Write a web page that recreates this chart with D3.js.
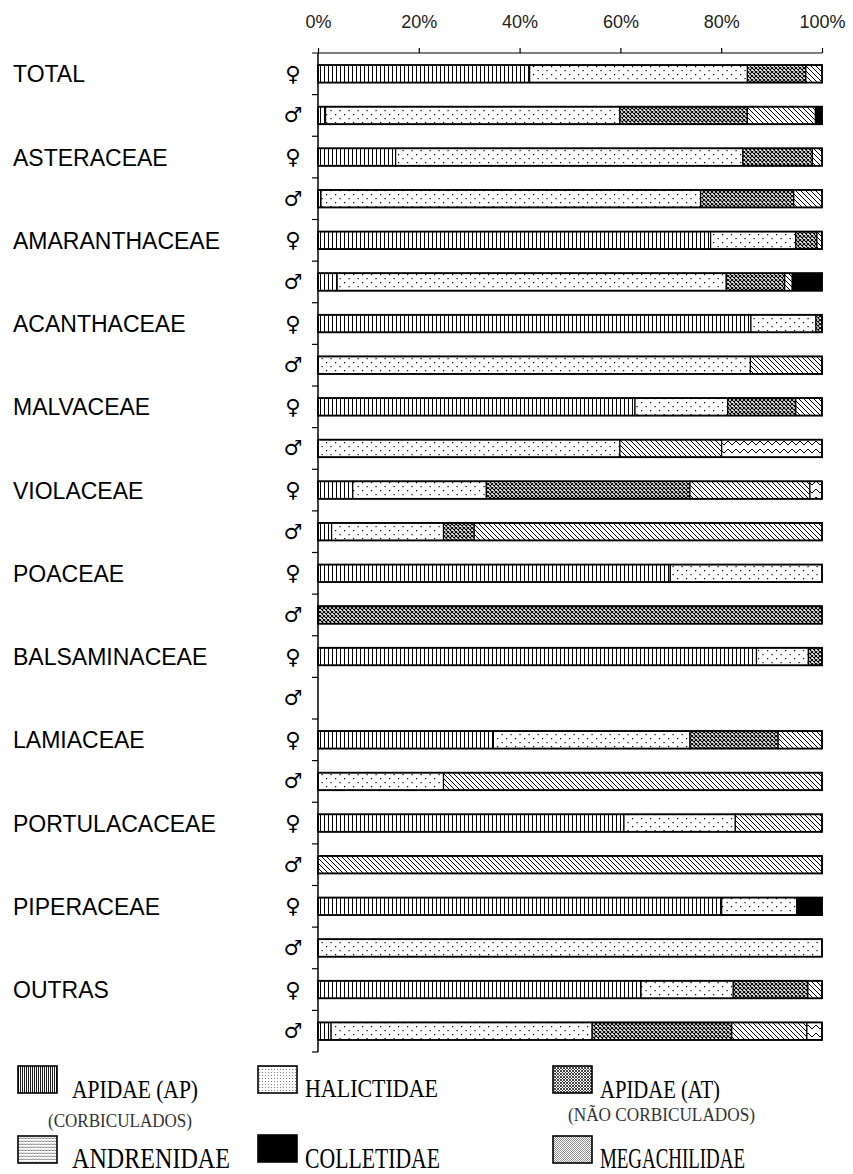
<!DOCTYPE html>
<html><head><meta charset="utf-8">
<script src="https://cdn.jsdelivr.net/npm/d3@7"></script>
<style>body{margin:0;background:#fff}svg{display:block}</style>
</head><body>
<svg id="c" width="853" height="1174"></svg>
<script>
const categories = ["TOTAL","ASTERACEAE","AMARANTHACEAE","ACANTHACEAE","MALVACEAE","VIOLACEAE","POACEAE","BALSAMINACEAE","LAMIACEAE","PORTULACACEAE","PIPERACEAE","OUTRAS"];
const sexes = ["♀","♂"];
const families = ["AP","HAL","AT","MEG","AND","COL"];
const tickValues = [0,20,40,60,80,100];
// values per row: cat ♀, cat ♂ ...
const apidaeAP   = [42,1.5, 15.4,0.6, 77.9,3.8, 85.9,0, 62.9,0, 6.9,2.7, 69.9,0, 87.0,0, 34.8,0, 60.7,0, 80.1,0, 64.1,2.6];
const halictidae = [43.2,58.4, 68.9,75.3, 16.9,77.2, 12.9,85.8, 18.4,59.9, 26.5,22.2, 30.1,0, 10.3,0, 39.0,24.9, 22.1,0, 14.9,100, 18.3,51.8];
const apidaeAT   = [11.6,25.3, 13.8,18.5, 4.2,11.6, 1.2,0, 13.5,0, 40.4,6.1, 0,100, 2.7,0, 17.5,0, 0,0, 0,0, 14.8,27.7];
const megachilidae=[3.2,13.5, 1.9,5.6, 1.0,1.5, 0,14.2, 5.2,20.2, 23.8,69.0, 0,0, 0,0, 8.7,75.1, 17.2,100, 0,0, 2.8,14.9];
const andrenidae = [0,0, 0,0, 0,0, 0,0, 0,19.9, 2.4,0, 0,0, 0,0, 0,0, 0,0, 0,0, 0,3.0];
const colletidae = [0,1.3, 0,0, 0,5.9, 0,0, 0,0, 0,0, 0,0, 0,0, 0,0, 0,0, 5.0,0, 0,0];

const seriesMap = {AP:apidaeAP, HAL:halictidae, AT:apidaeAT, MEG:megachilidae, AND:andrenidae, COL:colletidae};
const rows = [];
categories.forEach((c,i)=>sexes.forEach((s,j)=>{
  const k=i*2+j; const r={key:c+"|"+s, cat:c, sex:s, total:0};
  families.forEach(f=>{r[f]=seriesMap[f][k]; r.total+=seriesMap[f][k];});
  rows.push(r);
}));

const svg = d3.select("#c");
const defs = svg.append("defs");
function pat(id,w,h,draw){const p=defs.append("pattern").attr("id",id).attr("patternUnits","userSpaceOnUse").attr("width",w).attr("height",h);p.append("rect").attr("width",w).attr("height",h).attr("fill","#fff");draw(p);return p;}
// chart patterns
pat("pAP",4,4,p=>p.append("rect").attr("x",0).attr("y",0).attr("width",1).attr("height",4).attr("fill","#000"));
pat("pHAL",9,8,p=>{p.append("rect").attr("x",2).attr("y",2).attr("width",1.2).attr("height",1.2).attr("fill","#000");p.append("rect").attr("x",6.5).attr("y",6).attr("width",1.2).attr("height",1.2).attr("fill","#000");});
pat("pAT",4,4,p=>p.append("path").attr("d","M0,0L4,4M4,0L0,4").attr("stroke","#000").attr("stroke-width",1.1));
pat("pMEG",5,5,p=>p.append("path").attr("d","M0,0L5,5M-1,4L1,6M4,-1L6,1").attr("stroke","#000").attr("stroke-width",1));
pat("pAND",8,8,p=>p.append("path").attr("d","M0,1L4,5L8,1").attr("fill","none").attr("stroke","#000").attr("stroke-width",1));
pat("pCOL",4,4,p=>p.select("rect").attr("fill","#000"));
// legend patterns (finer)
pat("lAP",2,2,p=>p.append("rect").attr("width",0.9).attr("height",2).attr("fill","#000"));
pat("lHAL",3,3,p=>p.append("rect").attr("x",1).attr("y",1).attr("width",0.8).attr("height",0.8).attr("fill","#444"));
pat("lAT",3,3,p=>p.append("path").attr("d","M0,0L3,3M3,0L0,3").attr("stroke","#333").attr("stroke-width",0.9));
pat("lAND",3,3,p=>p.append("path").attr("d","M0,0.5L1.5,2L3,0.5").attr("fill","none").attr("stroke","#444").attr("stroke-width",0.8));
pat("lMEG",2,2,p=>p.append("path").attr("d","M0,0L2,2M-1,1L1,3M1,-1L3,1").attr("stroke","#444").attr("stroke-width",0.6));
pat("lCOL",2,2,p=>p.select("rect").attr("fill","#000"));

const x0=318, x1=822, yTop=53, yBot=1052;
const x = d3.scaleLinear().domain([0,100]).range([x0,x1]);
const y = d3.scaleBand().domain(rows.map(r=>r.key)).range([yTop,yBot]).paddingInner(0);
const barH = 17.5;

// top axis
const gx = svg.append("g").attr("transform",`translate(0,${yTop})`)
  .call(d3.axisTop(x).tickValues(tickValues).tickSize(5).tickPadding(20).tickFormat(d=>d+"%"));
gx.select(".domain").attr("d",`M${x0-6},0H${x1}`).attr("stroke","#000").attr("stroke-width",1.2);
gx.selectAll(".tick line").attr("stroke","#000").attr("stroke-width",1.2);
gx.selectAll(".tick text").attr("font-family","Liberation Sans, Arial, sans-serif").attr("font-size",18).attr("fill","#222");

// left axis with boundary ticks
const gy = svg.append("g");
gy.append("line").attr("x1",x0).attr("x2",x0).attr("y1",yTop).attr("y2",yBot).attr("stroke","#000").attr("stroke-width",1.5);
const bounds = rows.map(r=>y(r.key)+y.bandwidth());
gy.selectAll("line.tk").data(bounds).join("line").attr("class","tk")
  .attr("x1",x0-6).attr("x2",x0).attr("y1",d=>d).attr("y2",d=>d).attr("stroke","#000").attr("stroke-width",1.2);

// bars
const stack = d3.stack().keys(families)(rows);
const g = svg.append("g");
stack.forEach(s=>{
  g.append("g").selectAll("rect").data(s.filter(d=>d[1]-d[0]>0)).join("rect")
   .attr("x",d=>x(d[0])).attr("width",d=>x(d[1])-x(d[0]))
   .attr("y",d=>y(d.data.key)+y.bandwidth()/2-barH/2).attr("height",barH)
   .attr("fill",`url(#p${s.key})`).attr("stroke","#000").attr("stroke-width",1.2);
});
// bar outlines
g.append("g").selectAll("rect").data(rows.filter(r=>r.total>0)).join("rect")
  .attr("x",x(0)).attr("width",d=>x(d.total)-x(0))
  .attr("y",d=>y(d.key)+y.bandwidth()/2-barH/2).attr("height",barH)
  .attr("fill","none").attr("stroke","#000").attr("stroke-width",1.8);

// category labels & sex symbols
svg.append("g").selectAll("text").data(rows.filter(r=>r.sex==="♀")).join("text")
  .attr("x",13).attr("y",d=>y(d.key)+y.bandwidth()/2+8.5)
  .attr("font-family","Liberation Sans, Arial, sans-serif").attr("font-size",23).attr("fill","#000")
  .text(d=>d.cat);
svg.append("g").selectAll("text").data(rows).join("text")
  .attr("x",293).attr("y",d=>y(d.key)+y.bandwidth()/2).attr("dominant-baseline","central").attr("text-anchor","middle")
  .attr("font-family","DejaVu Sans, sans-serif").attr("font-size",21).attr("fill","#000")
  .text(d=>d.sex);

// legend
const legendItems = [
  {f:"AP",label:"APIDAE (AP)",sub:"(CORBICULADOS)",sx:18,sy:1066,tx:72,tw:126,ty:1098,subx:48,subw:144,suby:1127},
  {f:"HAL",label:"HALICTIDAE",sx:258,sy:1066,tx:305,tw:133,ty:1097},
  {f:"AT",label:"APIDAE (AT)",sub:"(NÃO CORBICULADOS)",sx:553,sy:1066,tx:600,tw:120,ty:1098,subx:568,subw:187,suby:1121},
  {f:"AND",label:"ANDRENIDAE",sx:18,sy:1136,tx:72,tw:158,ty:1168,big:true},
  {f:"COL",label:"COLLETIDAE",sx:258,sy:1135,tx:305,tw:135,ty:1168,big:true},
  {f:"MEG",label:"MEGACHILIDAE",sx:553,sy:1136,tx:600,tw:145,ty:1168,big:true}
];
const lg = svg.append("g");
legendItems.forEach(it=>{
  lg.append("rect").attr("x",it.sx).attr("y",it.sy).attr("width",39).attr("height",27)
    .attr("fill",`url(#l${it.f})`).attr("stroke","#000").attr("stroke-width",1.6);
  lg.append("text").attr("transform",`translate(${it.tx},${it.ty}) scale(1,${it.big?1.2:1.05})`)
    .attr("font-family","Liberation Serif, Times New Roman, serif")
    .attr("font-size",24).attr("fill","#000").attr("textLength",it.tw).attr("lengthAdjust","spacingAndGlyphs").text(it.label);
  if(it.sub){
    lg.append("text").attr("x",it.subx).attr("y",it.suby).attr("font-family","Liberation Serif, Times New Roman, serif")
      .attr("font-size",19).attr("fill","#333").attr("textLength",it.subw).attr("lengthAdjust","spacingAndGlyphs").text(it.sub);
  }
});
</script>
</body></html>
